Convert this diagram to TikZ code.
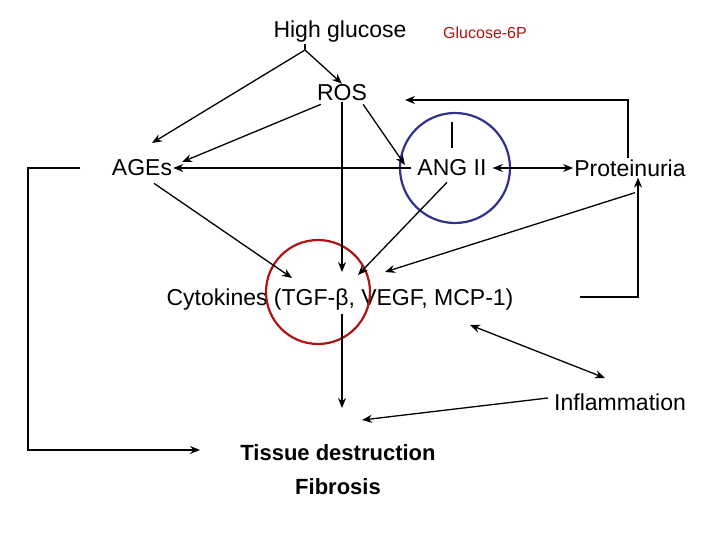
\documentclass[tikz,border=0pt]{standalone}
\usepackage{fontspec}
\setmainfont{Liberation Sans}
\usetikzlibrary{arrows.meta}
\definecolor{ringblue}{RGB}{50,50,140}
\definecolor{ringred}{RGB}{175,20,20}
\begin{document}
\begin{tikzpicture}[x=1pt,y=-1pt,
  lbl/.style={font=\fontsize{23}{26}\selectfont, inner sep=1pt},
  arr/.style={-{Stealth[length=10pt,width=8pt]}, line width=1.3pt},
  dbl/.style={{Stealth[length=10pt,width=8pt]}-{Stealth[length=10pt,width=8pt]}, line width=1.3pt},
  ln/.style={line width=1.3pt}]
\useasboundingbox (0,0) rectangle (720,540);
\node[lbl] (hg) at (340,32) {High glucose};
\node[font=\fontsize{16}{18}\selectfont, text=ringred] (g6p) at (485,33) {Glucose-6P};
\node[lbl] (ros) at (342,93) {ROS};
\node[lbl] (age) at (142,168) {AGEs};
\node[lbl] (ang) at (452,168) {ANG II};
\node[lbl] (pro) at (630,168) {Proteinuria};
\node[lbl] (cyt) at (340,300) {Cytokines (TGF-β, VEGF, MCP-1)};
\node[lbl] (inf) at (620,402) {Inflammation};
\node[lbl, font=\bfseries\fontsize{22}{26}\selectfont] (tis) at (338,453) {Tissue destruction};
\node[lbl, font=\bfseries\fontsize{22}{26}\selectfont] (fib) at (338,487) {Fibrosis};
\draw[ringblue, line width=2.2pt] (455,168) circle (55);
\draw[ringred, line width=2.2pt] (318,292) circle (52);
\coordinate (hgb) at (305,50);
\draw[ln] (hg.south -| hgb) -- (hgb);
\draw[arr] (hgb) -- (ros.north);
\draw[arr] (hgb) -- (152,143);
\draw[arr] (ros.south west) ++(5,2) -- (182,162);
\draw[arr] (ros.south east) ++(-5,2) -- (405,165);
\draw[arr] (ros.south) -- (342,272);
\draw[arr] (ang.west) ++(-5,0) -- (age.east);
\draw[dbl] (ang.east) ++(5,0) -- (pro.west);
\coordinate (tr) at (628,100);
\draw[arr] (pro.north -| tr) -- (tr) -- (405,100);
\draw[ln] (452,148) -- (452,122);
\draw[arr] (age.south) ++(12,6) -- (292,278);
\draw[arr] (ang.south) ++(-5,5) -- (358,275);
\draw[arr] (pro.south) ++(5,15) -- (385,272);
\coordinate (cr) at (638,297);
\draw[arr] (580,297) -- (cr) -- (cr |- pro.south);
\draw[dbl] (470,325) -- (605,378);
\draw[arr] (cyt.south -| 342,0) ++(0,2) -- (342,408);
\draw[arr] (inf.west) ++(-5,-4) -- (362,420);
\coordinate (l1) at (28,168);
\coordinate (l2) at (28,450);
\draw[arr] (80,168) -- (l1) -- (l2) -- (200,450);
\end{tikzpicture}
\end{document}
